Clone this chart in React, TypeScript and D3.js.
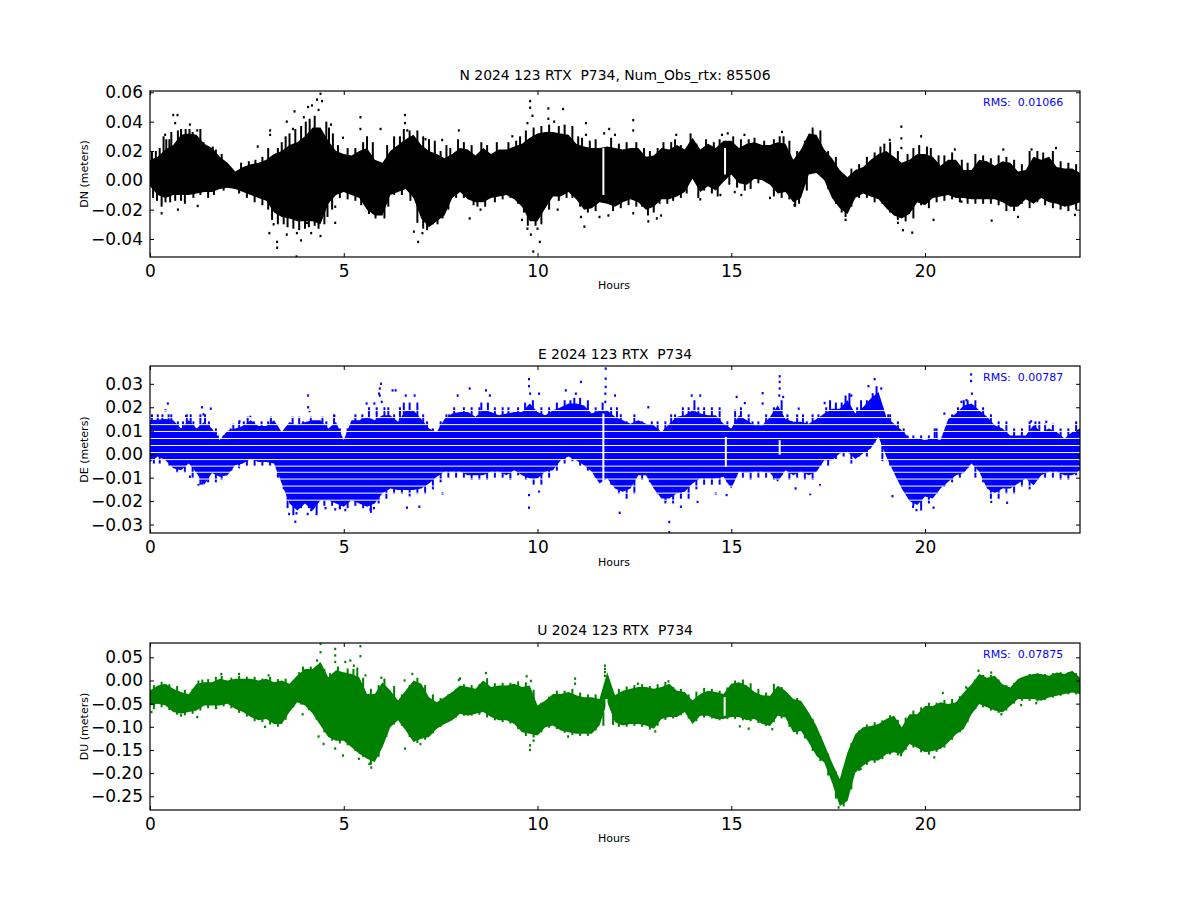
import { useEffect, useRef } from "react";
import * as d3 from "d3";

const WIDTH = 1200;
const HEIGHT = 900;
const LEFT = 150;
const RIGHT = 1080;
const FONT = "'DejaVu Sans', sans-serif";

const SAMPLE_STEP = 0.2;
const HOUR_TICKS = [0, 5, 10, 15, 20];

// upper and lower edge of the dense cloud, one value every 0.2 h
const northUpper = [
  .014,.016,.021,.024,.031,.032,.031,.025,.022,.016,.012,.006,.009,.011,.012,.014,.018,.020,.024,.026,.030,.036,.036,.027,.020,.018,.017,.020,.022,.014,.012,.020,.024,.028,.031,.024,.020,.018,.015,.018,.022,
  .021,.017,.022,.018,.021,.021,.023,.025,.029,.032,.033,.033,.032,.031,.025,.023,.022,.022,.023,.022,.021,.022,.022,.016,.017,.022,.021,.024,.021,.029,.021,.025,.022,.027,.027,.022,.025,.026,.024,
  .024,.026,.025,.014,.021,.032,.031,.021,.015,.007,.002,.007,.009,.014,.018,.020,.016,.012,.014,.018,.018,.016,.010,.014,.014,.007,.007,.014,.013,.010,.013,.012,.006,.007,.016,.014,.016,.009,.008,.008,.005,
];
const northLower = [
  -.004,-.010,-.012,-.010,-.010,-.010,-.009,-.008,-.008,-.006,-.005,-.006,-.008,-.010,-.012,-.014,-.022,-.025,-.026,-.028,-.028,-.028,-.030,-.016,-.010,-.008,-.010,-.012,-.020,-.024,-.024,-.010,-.008,-.006,-.012,-.026,-.032,-.028,-.024,-.012,-.008,
  -.013,-.015,-.015,-.012,-.011,-.010,-.013,-.018,-.028,-.028,-.019,-.011,-.011,-.008,-.013,-.020,-.019,-.015,-.016,-.018,-.015,-.013,-.015,-.020,-.018,-.013,-.013,-.011,-.008,.001,-.008,-.004,-.007,-.001,.004,-.002,-.003,.001,0,
  -.003,-.009,-.008,-.015,-.012,.004,.005,0,-.012,-.019,-.023,-.012,-.009,-.011,-.013,-.019,-.024,-.026,-.023,-.015,-.017,-.012,-.011,-.010,-.012,-.012,-.013,-.013,-.013,-.013,-.015,-.018,-.018,-.013,-.016,-.012,-.015,-.016,-.018,-.017,-.015,
];
const eastUpper = [
  .0145,.0147,.015,.0145,.011,.0145,.011,.0137,.011,.006,.01,.011,.012,.0145,.012,.012,.0145,.0095,.0137,.0123,.0137,.0145,.0145,.011,.0137,.006,.0145,.0145,.016,.0145,
  .0166,.0166,.0138,.0187,.0187,.015,.011,.0095,.015,.0173,.018,.018,.016,.0187,.018,.0166,.0173,.018,.018,.0216,.018,.0166,.0187,.02,.0216,.0216,.0208,.0173,.0187,.0187,.016,.0145,.013,.0145,.013,.0123,.0095,.013,.016,.0166,.0187,.0173,.0166,.0166,.013,
  .011,.0166,.0145,.0123,.0123,.016,.0208,.015,.0138,.0138,.013,.015,.0173,.0194,.0194,.023,.0173,.02,.0237,.0265,.016,.013,.0102,.0067,.0067,.006,.0067,.006,.015,.0173,.0208,.0216,.0187,.016,.0123,.011,.008,.008,.008,.0123,.0095,.011,.0095,.0067,.0095,.011,
];
const eastLower = [
  -.0033,-.001,-.0026,-.006,-.0068,-.004,-.008,-.013,-.008,-.0096,-.009,-.0047,-.004,-.002,-.0033,-.0033,-.004,-.0125,-.021,-.024,-.021,-.024,-.0196,-.0196,-.021,-.0224,-.0196,-.021,-.0224,-.021,
  -.0167,-.0146,-.0153,-.0153,-.0153,-.0146,-.0125,-.0096,-.0075,-.0075,-.0075,-.009,-.009,-.009,-.0075,-.0075,-.009,-.0068,-.009,-.0104,-.0104,-.0075,-.0068,-.0026,-.001,-.0026,-.0047,-.0075,-.0125,-.0104,-.0146,-.016,-.0146,-.009,-.009,-.0146,-.0189,-.0189,-.0167,-.016,-.0125,-.0104,-.0104,-.0104,-.0096,
  -.0146,-.0075,-.008,-.0075,-.0075,-.008,-.0118,-.0068,-.009,-.0075,-.009,-.0075,-.0026,-.0026,.0003,.001,-.002,.0003,.0024,.0074,-.001,-.008,-.0146,-.02,-.0217,-.018,-.0189,-.0146,-.0118,-.009,-.008,-.004,-.0075,-.0146,-.0167,-.0146,-.0146,-.0125,-.0104,-.0132,-.009,-.0075,-.0075,-.009,-.009,-.0068,
];
const upUpper = [
  -.0216,-.011,-.007,-.018,-.025,-.03,-.007,-.0036,-.0036,.0036,0,.0036,.0036,.0036,0,.0036,-.0036,0,-.007,.011,.025,.025,.04,.007,.022,.018,.014,.007,-.029,-.029,-.0036,-.0216,-.043,-.0216,0,-.007,-.036,-.047,-.036,-.025,-.011,
  -.014,-.018,0,-.014,-.011,-.011,-.007,-.014,-.011,-.054,-.043,-.029,-.029,-.025,-.032,-.036,-.036,-.04,.018,-.032,-.022,-.018,-.014,-.014,-.018,-.014,-.007,-.022,-.025,-.043,-.029,-.022,-.025,-.029,-.007,-.0036,-.011,-.025,-.032,
  -.033,-.0115,-.022,-.04,-.044,-.069,-.098,-.137,-.177,-.213,-.155,-.116,-.101,-.098,-.094,-.083,-.076,-.101,-.073,-.073,-.055,-.055,-.047,-.051,-.047,-.026,-.008,.014,.006,.01,-.008,-.015,.003,.01,.014,.014,.01,.017,.014,.021,.006,
];
const upLower = [
  -.054,-.05,-.054,-.068,-.072,-.068,-.065,-.054,-.054,-.054,-.05,-.061,-.068,-.079,-.086,-.083,-.094,-.094,-.068,-.047,-.054,-.072,-.097,-.122,-.13,-.13,-.144,-.158,-.169,-.176,-.144,-.101,-.086,-.108,-.133,-.126,-.122,-.104,-.094,-.086,-.072,
  -.076,-.072,-.068,-.079,-.086,-.086,-.094,-.112,-.115,-.119,-.101,-.097,-.108,-.112,-.115,-.115,-.115,-.097,-.047,-.09,-.097,-.094,-.094,-.097,-.104,-.083,-.079,-.079,-.068,-.094,-.076,-.076,-.083,-.083,-.079,-.079,-.086,-.083,-.094,
  -.098,-.076,-.08,-.112,-.109,-.134,-.163,-.177,-.22,-.271,-.26,-.199,-.184,-.173,-.173,-.159,-.155,-.159,-.137,-.145,-.155,-.152,-.148,-.134,-.116,-.105,-.073,-.051,-.058,-.065,-.069,-.055,-.04,-.04,-.04,-.044,-.037,-.033,-.029,-.026,-.029,
];

// spikes on the edge of the cloud, flat hour,value pairs
const northSpikes = [
  .05,.02,.15,.02,.25,.022,.35,.03,.42,.028,.5,.028,.55,.033,.72,.034,.8,.035,.92,.035,1.02,.035,1.1,.033,1.3,.035,1.38,.026,1.5,.023,1.62,.023,1.7,.021,1.85,.018,2.35,.012,2.55,.013,2.72,.014,2.9,.016,3.05,.022,3.3,.022,3.4,.026,3.5,.03,3.6,.032,3.75,.035,3.9,.037,4.02,.04,4.12,.042,4.25,.044,4.55,.04,4.62,.036,4.72,.032,4.85,.024,5.1,.022,5.3,.022,5.5,.026,5.6,.03,5.75,.026,6.12,.024,6.3,.03,6.45,.03,6.55,.035,6.7,.034,6.9,.034,7.05,.03,7.2,.028,7.35,.027,7.5,.02,7.65,.024,7.75,.022,7.95,.028,
  .08,-.012,.18,-.014,.3,-.018,.4,-.015,.52,-.015,.65,-.014,.8,-.014,.9,-.016,1.12,-.012,1.3,-.01,1.5,-.012,1.65,-.01,1.9,-.007,2.3,-.009,2.5,-.012,2.7,-.015,2.9,-.017,3.05,-.02,3.15,-.027,3.3,-.03,3.45,-.03,3.55,-.032,3.7,-.033,3.85,-.034,4,-.033,4.1,-.032,4.25,-.031,4.35,-.033,4.5,-.03,4.58,-.025,4.7,-.02,4.9,-.012,5.1,-.013,5.3,-.014,5.45,-.017,5.65,-.023,5.82,-.026,6.05,-.026,6.15,-.018,6.3,-.01,6.5,-.01,6.72,-.014,6.9,-.029,7.05,-.033,7.15,-.034,7.3,-.03,7.42,-.03,7.55,-.026,7.7,-.02,7.9,-.012,
  8.1,.026,8.3,.024,8.55,.026,8.7,.024,8.95,.026,9.25,.026,9.45,.027,9.55,.03,9.7,.034,9.9,.036,10.1,.037,10.3,.038,10.55,.037,10.7,.038,10.9,.037,11.05,.03,11.15,.029,11.35,.027,11.5,.028,11.9,.029,12.1,.025,12.3,.026,12.55,.026,12.75,.022,12.9,.02,13.1,.022,13.25,.026,13.45,.026,13.55,.028,13.7,.024,13.95,.032,14.1,.025,14.35,.028,14.55,.026,14.7,.028,15.05,.03,15.25,.028,15.45,.028,15.6,.029,15.85,.027,
  8.1,-.012,8.35,-.017,8.45,-.018,8.65,-.018,8.9,-.015,9.1,-.013,9.3,-.012,9.5,-.016,9.65,-.022,9.75,-.031,9.95,-.031,10.1,-.03,10.3,-.02,10.55,-.014,10.75,-.012,10.9,-.012,11.1,-.018,11.3,-.022,11.5,-.021,11.95,-.021,12.15,-.019,12.35,-.017,12.55,-.018,12.7,-.018,12.85,-.024,13,-.022,13.15,-.016,13.35,-.016,13.5,-.014,13.7,-.012,13.85,-.009,14.15,-.012,14.3,-.007,14.5,-.009,14.65,-.011,14.95,-.003,15.15,-.005,15.35,-.007,15.5,-.006,15.7,-.002,
  16.1,.028,16.25,.03,16.35,.03,16.5,.027,16.7,.02,16.9,.027,17.1,.036,17.3,.034,17.5,.02,17.7,.016,18.1,.008,18.3,.011,18.5,.016,18.7,.019,18.85,.023,18.95,.025,19.1,.026,19.3,.02,19.55,.018,19.7,.022,19.85,.024,20.05,.023,20.15,.022,20.35,.017,20.5,.017,20.7,.019,20.95,.014,21.1,.012,21.3,.018,21.5,.017,21.7,.015,21.9,.017,22.1,.016,22.3,.014,22.5,.011,22.7,.02,22.9,.02,23.05,.019,23.3,.02,23.5,.013,23.7,.012,23.9,.011,
  16.1,-.011,16.3,-.012,16.5,-.013,16.65,-.018,16.75,-.016,16.95,-.007,17.5,-.006,17.7,-.016,17.85,-.022,17.95,-.025,18.1,-.018,18.3,-.012,18.5,-.012,18.7,-.015,18.9,-.016,19.1,-.022,19.3,-.027,19.5,-.028,19.7,-.026,19.9,-.017,20.1,-.019,20.3,-.015,20.5,-.014,20.7,-.013,20.9,-.015,21.1,-.016,21.3,-.016,21.5,-.016,21.7,-.016,21.9,-.017,22.1,-.021,22.3,-.021,22.5,-.016,22.7,-.019,22.9,-.015,23.1,-.017,23.3,-.019,23.5,-.02,23.7,-.021,23.9,-.02,
];
const eastSpikes = [
  .05,.017,.2,.017,.32,.017,.48,.017,.55,.017,.72,.014,.85,.014,.95,.017,1.05,.017,1.12,.014,1.3,.017,1.42,.017,1.52,.014,1.7,.011,1.75,.008,1.9,.008,2.08,.011,2.15,.013,2.3,.014,2.42,.014,2.52,.016,2.68,.014,2.88,.014,3.05,.014,3.12,.016,3.3,.011,3.5,.011,3.68,.016,3.85,.016,3.95,.014,4.15,.016,4.3,.014,4.45,.016,4.55,.014,4.75,.017,4.9,.011,5.1,.011,5.3,.017,5.48,.017,5.65,.02,5.85,.02,
  6.05,.02,6.15,.02,6.3,.017,6.45,.02,6.55,.022,6.7,.022,6.9,.022,7.05,.017,7.15,.014,7.3,.011,7.5,.014,7.65,.017,7.72,.017,7.85,.02,8.1,.02,8.3,.02,8.5,.02,8.55,.022,8.72,.022,8.9,.02,9.1,.02,9.25,.02,9.5,.02,9.68,.022,9.88,.023,10.1,.02,10.3,.02,10.5,.022,10.7,.023,10.85,.023,10.95,.024,11.1,.024,11.3,.023,11.5,.02,11.68,.022,11.9,.02,12.05,.02,12.15,.017,12.3,.014,12.5,.017,12.7,.014,12.95,.014,13.1,.014,13.3,.014,13.45,.017,13.55,.017,13.75,.02,13.9,.02,14.05,.023,14.15,.02,14.3,.02,14.5,.02,14.7,.02,14.9,.014,
  15.1,.019,15.25,.02,15.45,.017,15.55,.014,15.7,.014,15.9,.017,16.1,.02,16.3,.023,16.45,.017,16.55,.014,16.7,.017,16.85,.017,16.95,.014,17.1,.017,17.25,.017,17.45,.02,17.55,.023,17.7,.022,17.85,.022,17.95,.025,18.05,.026,18.25,.02,18.35,.023,18.5,.023,18.65,.026,18.75,.029,18.9,.02,19.05,.017,19.1,.017,19.3,.014,19.45,.011,19.55,.008,19.7,.008,19.9,.008,20.1,.008,20.25,.011,20.3,.011,20.5,.008,20.7,.017,20.85,.02,21,.023,21.1,.023,21.3,.023,21.5,.02,21.7,.017,21.9,.014,22.1,.014,22.3,.011,22.5,.011,22.7,.014,22.85,.014,22.95,.014,23.1,.013,23.3,.013,23.5,.011,23.7,.011,23.9,.014,
  .1,-.004,.25,-.004,.5,-.005,.7,-.008,.9,-.008,1.1,-.01,1.3,-.013,1.35,-.013,1.5,-.012,1.7,-.012,1.85,-.011,2.1,-.007,2.3,-.006,2.5,-.005,2.7,-.005,2.9,-.005,3.1,-.005,3.3,-.01,3.45,-.015,3.55,-.023,3.7,-.026,3.9,-.023,4.1,-.023,4.3,-.026,4.5,-.022,4.7,-.022,4.9,-.023,5.1,-.023,5.3,-.022,5.5,-.023,5.7,-.025,5.9,-.021,
  6.1,-.019,6.3,-.017,6.5,-.017,6.7,-.018,6.9,-.017,7.1,-.017,7.3,-.015,7.5,-.012,7.7,-.01,7.9,-.01,8.1,-.01,8.3,-.011,8.5,-.011,8.7,-.011,8.9,-.01,9.1,-.01,9.3,-.011,9.5,-.009,9.7,-.011,9.9,-.013,10.1,-.013,10.3,-.01,10.5,-.007,10.7,-.004,10.9,-.003,11.1,-.005,11.3,-.007,11.5,-.01,11.9,-.013,12.1,-.017,12.3,-.019,12.5,-.017,12.7,-.011,12.9,-.012,13.1,-.017,13.3,-.021,13.5,-.021,13.7,-.019,13.9,-.019,14.1,-.015,14.3,-.013,14.5,-.013,14.7,-.013,14.9,-.012,
  15.1,-.01,15.3,-.01,15.5,-.011,15.7,-.01,15.9,-.01,16.1,-.011,16.3,-.009,16.5,-.011,16.7,-.01,16.9,-.011,17.1,-.011,17.3,-.005,17.5,-.005,17.7,-.002,17.9,-.001,18.1,-.004,18.3,-.001,18.5,-.001,18.7,.005,18.9,-.003,19.1,-.005,19.3,-.011,19.5,-.017,19.7,-.022,19.9,-.024,20.1,-.021,20.3,-.017,20.5,-.014,20.7,-.012,20.9,-.01,21.1,-.006,21.3,-.01,21.5,-.012,21.7,-.019,21.9,-.019,22.1,-.017,22.3,-.017,22.5,-.014,22.7,-.015,22.9,-.011,23.1,-.01,23.3,-.01,23.5,-.011,23.7,-.011,23.9,-.009,
];
const upSpikes = [
  .1,-.01,.3,-.003,.5,-.008,.7,-.012,.9,-.02,1.1,-.018,1.25,0,1.35,.002,1.5,.003,1.7,.008,1.85,.01,2.1,.006,2.3,.01,2.5,.008,2.7,.008,2.9,.004,3.1,.008,3.3,.003,3.5,.004,3.7,-.002,3.85,.018,3.95,.03,4.15,.03,4.3,.03,4.5,.025,4.65,.016,4.85,.03,5.1,.026,5.25,.025,5.35,.028,5.5,.006,5.7,-.018,5.9,-.01,6.05,.004,6.3,-.012,6.5,-.03,6.7,-.01,6.9,.006,7.1,-.01,7.3,-.03,7.5,-.038,7.7,-.03,7.9,-.018,
  8.1,-.008,8.3,-.01,8.5,-.008,8.7,.005,8.9,-.006,9.1,-.005,9.3,-.005,9.5,-.002,9.7,-.004,9.9,-.02,10.1,-.048,10.3,-.035,10.5,-.022,10.7,-.022,10.9,-.018,11.1,-.026,11.3,-.03,11.5,-.03,11.95,-.026,12.1,-.018,12.3,-.013,12.5,-.01,12.7,-.008,12.9,-.012,13.1,-.008,13.3,-.003,13.5,-.014,13.7,-.018,13.9,-.03,14.1,-.024,14.3,-.016,14.5,-.018,14.7,-.022,14.9,-.015,15.1,0,15.3,.002,15.5,-.006,15.7,-.018,15.9,-.026,
  16.1,-.007,16.3,-.014,16.5,-.033,16.7,-.038,16.9,-.06,17.1,-.083,17.3,-.12,17.5,-.158,17.7,-.196,17.9,-.19,18.1,-.135,18.3,-.108,18.5,-.095,18.7,-.09,18.9,-.086,19.1,-.075,19.3,-.085,19.5,-.08,19.7,-.065,19.9,-.058,20.1,-.048,20.3,-.048,20.5,-.042,20.7,-.04,20.9,-.034,21.1,-.015,21.3,.002,21.5,.012,21.7,.012,21.9,.002,22.1,-.01,22.3,-.005,22.5,.006,22.7,.014,22.9,.016,23.1,.014,23.3,.016,23.5,.018,23.7,.018,23.9,.016,
  .1,-.062,.3,-.058,.5,-.064,.7,-.074,.9,-.075,1.1,-.072,1.3,-.065,1.5,-.06,1.7,-.062,1.9,-.056,2.1,-.06,2.3,-.07,2.5,-.078,2.7,-.088,2.9,-.09,3.1,-.095,3.3,-.1,3.5,-.085,3.7,-.058,3.9,-.052,4.1,-.064,4.3,-.085,4.5,-.112,4.7,-.13,4.9,-.136,5.1,-.14,5.3,-.152,5.5,-.165,5.7,-.182,5.9,-.165,6.1,-.122,6.3,-.095,6.5,-.098,6.7,-.122,6.9,-.135,7.1,-.128,7.3,-.114,7.5,-.1,7.7,-.09,7.9,-.08,
  8.1,-.076,8.3,-.076,8.5,-.074,8.7,-.08,8.9,-.086,9.1,-.09,9.3,-.093,9.5,-.105,9.7,-.12,9.9,-.123,10.1,-.112,10.3,-.102,10.5,-.105,10.7,-.113,10.9,-.118,11.1,-.12,11.3,-.12,11.5,-.108,11.7,-.098,11.95,-.096,12.1,-.1,12.3,-.1,12.5,-.098,12.7,-.1,12.9,-.106,13.1,-.098,13.3,-.085,13.5,-.082,13.7,-.075,13.9,-.082,14.1,-.088,14.3,-.08,14.5,-.082,14.7,-.086,14.9,-.083,15.1,-.083,15.3,-.086,15.5,-.088,15.7,-.092,15.9,-.098,
  16.1,-.09,16.3,-.082,16.5,-.1,16.7,-.116,16.9,-.125,17.1,-.152,17.3,-.174,17.5,-.205,17.7,-.255,17.9,-.272,18.1,-.235,18.3,-.195,18.5,-.182,18.7,-.178,18.9,-.17,19.1,-.16,19.3,-.162,19.5,-.15,19.7,-.145,19.9,-.155,20.1,-.16,20.3,-.154,20.5,-.145,20.7,-.128,20.9,-.112,21.1,-.09,21.3,-.062,21.5,-.058,21.7,-.065,21.9,-.07,22.1,-.065,22.3,-.05,22.5,-.044,22.7,-.044,22.9,-.045,23.1,-.042,23.3,-.037,23.5,-.033,23.7,-.03,23.9,-.03,
];

// single points standing outside the cloud
const northStrayHours = [.6,.71,.65,1.03,1.22,.39,.3,.72,1.23,3.1,3.1,2.78,3.53,3.73,3.69,3.97,4.08,4.18,4.31,4.4,4.44,4.35,4.67,4.98,5.43,5.43,5.95,6.58,6.58,6.64,7.11,7.54,7.97,3.08,3.28,3.28,3.78,3.53,3.79,3.9,4.16,4.4,4.78,4.78,6.92,6.81,7.03,7.33,4.05,3.19,9.81,9.81,9.87,10.28,10.28,10.66,10.43,9.74,9.35,11.25,11.25,12.47,12.47,11.85,11.72,12,13.58,15.34,14.91,14.76,8.25,8.53,9.6,9.83,9.89,10.06,9.74,10,11.21,11.12,11.6,11.83,12.47,12.86,13.08,13.19,14.2,14.72,15.09,15.26,10.52,16.31,19.39,19.39,19.39,19.9,19.09,20.77,22.02,22.75,23.38,16,16.63,17.95,19.43,19.67,21.72,20.22,19.3,22.4,23.87,20.94];
const northStrayValues = [.0445,.0445,.039,.038,.034,.031,-.0225,-.02,-.0175,.034,.031,.023,.04,.047,.035,.043,.05,.051,.055,.059,.054,.048,.038,.029,.043,.035,.035,.0445,.039,.034,.028,.0275,.034,-.036,-.046,-.042,-.052,-.037,-.036,-.041,-.036,-.038,-.029,-.018,-.042,-.035,-.036,-.027,-.029,-.03,.054,.0495,.044,.049,.042,.0486,.04,.039,.03,.039,.031,.041,.034,.035,.032,.031,.031,.031,.032,.031,-.026,-.02,-.027,-.037,-.0486,-.042,-.033,-.033,-.0316,-.025,-.025,-.024,-.0225,-.028,-.026,-.024,-.013,-.01,-.008,-.01,-.02,.033,.0366,.0286,.022,.03,.0275,.021,.021,.021,.022,-.012,-.017,-.027,-.034,-.0357,-.0275,-.027,-.029,-.025,-.0236,-.0145];
const eastStrayHours = [.46,.4,1.34,1.57,1.38,.93,2.31,2.59,4.08,4.08,4.12,3.75,3.59,3.78,4.07,4.16,1.25,1.03,4.76,5.59,5.79,5.93,5.93,5.04,5.69,4.78,4.53,4.9,5.96,5.91,5.98,6.34,6.26,6.6,6.83,8.25,8.67,8.77,7.94,9.78,9.78,9.81,10.04,11.12,10.99,10.73,11.76,11.76,11.76,11.75,11.75,12,13.98,14.2,12.86,9.78,12.12,13.4,13.4,6.95,6.63,13.7,14.13,7.55,5.78,14.6,10.04,9.78,13.31,16.25,16.25,16.25,16.24,15.81,15.81,15.14,15.35,16.34,18.7,18.54,18.87,18.1,21.19,21.19,21.21,21.07,20.94,17.41,16.74,14.88,17.04,17.29,16.66,19.16,19.78,19.69,20.22,21.71,22.12,23.13,22.74,20.5];
const eastStrayValues = [.0216,.0187,.02,.0194,.017,.0162,.014,.0159,.025,.02,.0184,-.0288,-.0255,-.0252,-.0255,-.0238,-.0132,-.0096,.0162,.0216,.0216,.028,.025,-.0238,-.0235,-.0235,-.023,-.023,.03,.0258,.0223,.0272,.0272,.025,.025,.028,.0272,.025,.025,.032,.029,.0258,.0258,.0308,.0258,.0272,.0365,.0322,.0287,.0258,.0223,.025,.025,.025,.02,-.0228,-.025,-.0289,-.0333,-.0224,-.0228,-.0224,-.0203,-.0167,-.023,-.0167,-.016,-.0174,-.0196,.0332,.0308,.028,.025,.026,.0216,.0244,.0218,.0244,.032,.029,.028,.025,.034,.0312,.0258,.023,.0223,.0218,.0194,-.0174,-.017,-.0132,-.0146,-.0179,-.0238,-.0224,-.0228,-.0203,-.0207,.0138,.014,.0173];
const upStrayHours = [4.4,4.4,4.31,4.78,4.78,4.78,5.43,5.43,5.04,5.17,5.26,5.56,5.97,6.57,6.77,8,1.84,2.3,3.06,1.22,1.71,.8,.04,2.97,3.94,4.35,4.48,4.78,4.98,5.39,5.71,5.66,6.58,6.98,8.67,9.72,9.83,10.97,10.97,11.74,11.74,11.74,11.74,7.97,13.38,9.81,9.81,9.9,10.79,13.04,15.22,15.45,12.59,21.38,21.71,20.46,21.06,22.48,22.87,21.71,21.97,20.24,19.38,17.77,18.34,16.06];
const upStrayValues = [.079,.061,.043,.068,.054,.04,.074,.0525,.04,.043,.032,.011,.006,0,.014,.004,.014,.014,.011,-.079,-.059,-.0755,-.068,-.1,-.073,-.121,-.137,-.147,-.162,-.169,-.188,-.18,-.147,-.137,.016,.009,-.001,.004,-.007,.032,.025,.018,.01,.001,-.002,-.15,-.14,-.13,-.121,-.11,-.099,-.104,-.007,.021,.017,-.027,-.015,-.053,-.049,-.06,-.073,-.166,-.161,-.274,-.191,-.105];

// short data outages, seen as thin white slits through the cloud
const northGapHours = [11.7, 14.84];
const northGapTop = [.022, .022];
const northGapBottom = [-.01, .004];
const eastGapHours = [11.7, 14.86, 16.25];
const eastGapTop = [.0173, .0074, .006];
const eastGapBottom = [-.0125, -.0054, -.0002];
const upGapHours = [11.78, 14.83];
const upGapTop = [-.04, -.036];
const upGapBottom = [-.097, -.076];

// east solution is quantised, which leaves empty rows
const eastEmptyRows = [.0186,.0156,.0126,.0097,.0067,.0037,.0007,-.0023,-.0051,-.0077,-.0106,-.0136,-.0166,-.0196];

const northTicks = [-.04, -.02, 0, .02, .04, .06];
const eastTicks = [-.03, -.02, -.01, 0, .01, .02, .03];
const upTicks = [-.25, -.2, -.15, -.1, -.05, 0, .05];

type PanelProps = {
  id: string;
  top: number;
  bottom: number;
  titleY: number;
  hoursY: number;
  domain: [number, number];
  title: string;
  yLabel: string;
  rms: string;
  color: string;
  upper: number[];
  lower: number[];
  spikes: number[];
  strayHours: number[];
  strayValues: number[];
  gapHours: number[];
  gapTop: number[];
  gapBottom: number[];
  yTicks: number[];
  emptyRows?: number[];
};

const Panel = (p: PanelProps) => {
  const axesRef = useRef<SVGGElement>(null);

  const xScale = d3.scaleLinear().domain([0, 24]).range([LEFT, RIGHT]);
  const yScale = d3.scaleLinear().domain(p.domain).range([p.bottom, p.top]);

  const band = d3
    .area<number>()
    .x((_, i) => xScale(i * SAMPLE_STEP))
    .y0((_, i) => yScale(p.lower[i]))
    .y1((d) => yScale(d));

  // middle of the cloud at an hour, the spikes start from there
  const middle = (h: number) => {
    const i = Math.round(h / SAMPLE_STEP);
    return (p.upper[i] + p.lower[i]) / 2;
  };

  useEffect(() => {
    const svg = d3.select(axesRef.current);
    svg.selectAll("*").remove();

    const g = [
      svg.append("g").attr("transform", `translate(0,${p.bottom})`).call(
        d3.axisBottom(xScale).tickValues(HOUR_TICKS).tickSize(-4).tickPadding(8).tickFormat(d3.format("d") as any)
      ),
      svg.append("g").attr("transform", `translate(0,${p.top})`).call(
        d3.axisTop(xScale).tickValues(HOUR_TICKS).tickSize(-4).tickFormat(() => "")
      ),
      svg.append("g").attr("transform", `translate(${LEFT},0)`).call(
        d3.axisLeft(yScale).tickValues(p.yTicks).tickSize(-4).tickPadding(7).tickFormat(d3.format(".2f") as any)
      ),
      svg.append("g").attr("transform", `translate(${RIGHT},0)`).call(
        d3.axisRight(yScale).tickValues(p.yTicks).tickSize(-4).tickFormat(() => "")
      ),
    ];
    g.forEach((a) => {
      a.select(".domain").remove();
      a.selectAll("line").attr("stroke", "#000").attr("stroke-width", 1);
      a.selectAll("text").attr("fill", "#000").style("font-family", FONT).style("font-size", "17px");
    });
  }, []);

  return (
    <g>
      <clipPath id={`clip-${p.id}`}>
        <rect x={LEFT} y={p.top} width={RIGHT - LEFT} height={p.bottom - p.top} />
      </clipPath>
      <g clipPath={`url(#clip-${p.id})`}>
        <path d={band(p.upper) ?? ""} fill={p.color} />
        {d3.range(0, p.spikes.length, 2).map((i) => (
          <line
            key={i}
            x1={xScale(p.spikes[i])}
            x2={xScale(p.spikes[i])}
            y1={yScale(p.spikes[i + 1])}
            y2={yScale(middle(p.spikes[i]))}
            stroke={p.color}
            strokeWidth={2}
          />
        ))}
        {p.strayHours.map((h, i) => (
          <rect key={i} x={xScale(h) - 1} y={yScale(p.strayValues[i]) - 1.2} width={2} height={2.4} fill={p.color} />
        ))}
        {p.gapHours.map((h, i) => (
          <rect
            key={i}
            x={xScale(h) - 1}
            y={yScale(p.gapTop[i])}
            width={2}
            height={yScale(p.gapBottom[i]) - yScale(p.gapTop[i])}
            fill="#fff"
          />
        ))}
        {(p.emptyRows ?? []).map((v) => (
          <line key={v} x1={LEFT} x2={RIGHT} y1={yScale(v)} y2={yScale(v)} stroke="#fff" strokeWidth={1} />
        ))}
      </g>
      <rect x={LEFT} y={p.top} width={RIGHT - LEFT} height={p.bottom - p.top} fill="none" stroke="#000" strokeWidth={1.2} />
      <g ref={axesRef} />
      <text x={(LEFT + RIGHT) / 2} y={p.titleY} textAnchor="middle" fontSize={13.9} style={{ whiteSpace: "pre" }}>
        {p.title}
      </text>
      <text x={(LEFT + RIGHT) / 2 - 1} y={p.hoursY} textAnchor="middle" fontSize={11}>
        Hours
      </text>
      <text transform={`translate(88,${(p.top + p.bottom) / 2}) rotate(-90)`} textAnchor="middle" fontSize={11}>
        {p.yLabel}
      </text>
      <text x={983} y={p.top + 15} fontSize={11} fill="#0000ff" style={{ whiteSpace: "pre" }}>
        {p.rms}
      </text>
    </g>
  );
};

export default function App() {
  return (
    <svg
      width={WIDTH}
      height={HEIGHT}
      style={{ position: "absolute", left: 0, top: 0, background: "#fff", fontFamily: FONT }}
    >
      <Panel
        id="n"
        top={91}
        bottom={257}
        titleY={80}
        hoursY={289}
        domain={[-.0523, .0609]}
        title="N 2024 123 RTX  P734, Num_Obs_rtx: 85506"
        yLabel="DN (meters)"
        rms="RMS:  0.01066"
        color="#000000"
        upper={northUpper}
        lower={northLower}
        spikes={northSpikes}
        strayHours={northStrayHours}
        strayValues={northStrayValues}
        gapHours={northGapHours}
        gapTop={northGapTop}
        gapBottom={northGapBottom}
        yTicks={northTicks}
      />
      <Panel
        id="e"
        top={366}
        bottom={533}
        titleY={359}
        hoursY={566}
        domain={[-.0336, .0376]}
        title="E 2024 123 RTX  P734"
        yLabel="DE (meters)"
        rms="RMS:  0.00787"
        color="#0000ff"
        upper={eastUpper}
        lower={eastLower}
        spikes={eastSpikes}
        strayHours={eastStrayHours}
        strayValues={eastStrayValues}
        gapHours={eastGapHours}
        gapTop={eastGapTop}
        gapBottom={eastGapBottom}
        yTicks={eastTicks}
        emptyRows={eastEmptyRows}
      />
      <Panel
        id="u"
        top={643}
        bottom={810}
        titleY={635}
        hoursY={842}
        domain={[-.2796, .0809]}
        title="U 2024 123 RTX  P734"
        yLabel="DU (meters)"
        rms="RMS:  0.07875"
        color="#008000"
        upper={upUpper}
        lower={upLower}
        spikes={upSpikes}
        strayHours={upStrayHours}
        strayValues={upStrayValues}
        gapHours={upGapHours}
        gapTop={upGapTop}
        gapBottom={upGapBottom}
        yTicks={upTicks}
      />
    </svg>
  );
}
